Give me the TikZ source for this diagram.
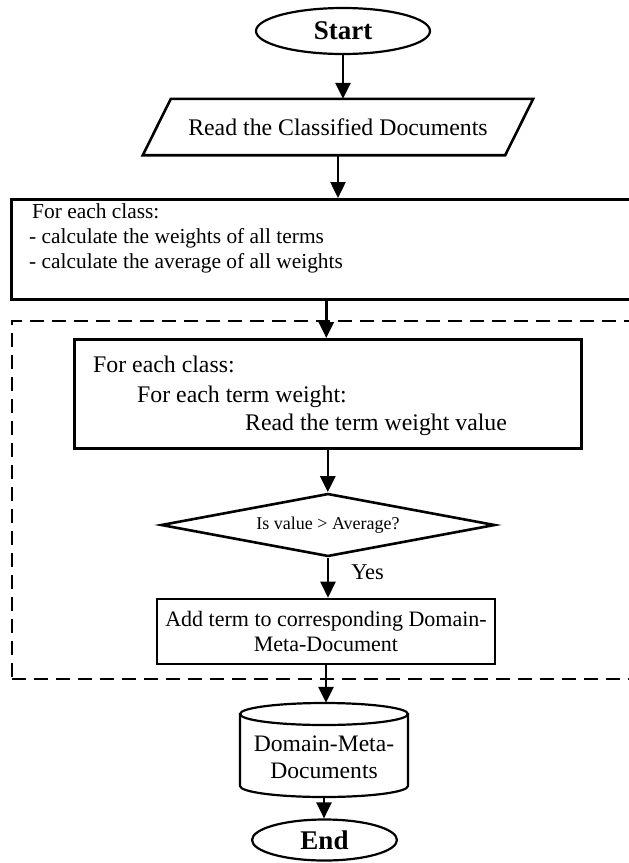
\documentclass[tikz,border=0pt]{standalone}
\usepackage{fontspec}
\setmainfont{Liberation Serif}
\usetikzlibrary{shapes.geometric,arrows.meta,calc}
\begin{document}
\begin{tikzpicture}[x=1pt,y=-1pt,
  arr/.style={line width=2.5pt,-{Triangle[width=15pt,length=16pt]}},
  boxstyle/.style={draw,line width=2.6pt,rectangle,inner sep=0pt},
  termstyle/.style={draw,ellipse,line width=2.2pt,inner sep=0pt,font=\fontsize{27}{30}\selectfont\bfseries},
  txtA/.style={anchor=base west,inner sep=0pt,font=\fontsize{21.4}{25}\selectfont},
  txtB/.style={anchor=base west,inner sep=0pt,font=\fontsize{23.8}{28}\selectfont},
  grpstyle/.style={draw,line width=2.2pt,dash pattern=on 14pt off 8pt,rectangle,inner sep=0pt}]
\useasboundingbox (0,0) rectangle (629,863);
\clip (0,0) rectangle (629,863);

% Start
\node[termstyle,minimum width=174pt,minimum height=46pt] (start) at (343,31) {Start};

% Parallelogram
\node[inner sep=0pt,minimum width=362pt,minimum height=56pt,font=\fontsize{23.8}{28}\selectfont] (par) at (338,127) {Read the Classified Documents};
\draw[line width=2.6pt] ([xshift=-14pt]par.south west) -- ([xshift=14pt]par.north west) -- ([xshift=14pt]par.north east) -- ([xshift=-14pt]par.south east) -- cycle;

% Box 1
\node[boxstyle,minimum width=630pt,minimum height=100pt,anchor=north west] (box1) at (10,198) {};
\node[txtA] (t1a) at (32,218) {For each class:};
\node[txtA] (t1b) at (29,243) {- calculate the weights of all terms};
\node[txtA] (t1c) at (29,268) {- calculate the average of all weights};

% Dashed group
\node[grpstyle,minimum width=640pt,minimum height=358pt,anchor=north west] (grp) at (11,320) {};

% Box 2
\node[boxstyle,minimum width=507pt,minimum height=109pt,anchor=north west] (box2) at (73,338) {};
\node[txtB] (t2a) at (93,372) {For each class:};
\node[txtB] (t2b) at (137,402) {For each term weight:};
\node[txtB] (t2c) at (245,430) {Read the term weight value};

% Decision
\node[diamond,draw,line width=2.6pt,minimum width=334pt,minimum height=63pt,inner sep=0pt,aspect=5.3,font=\fontsize{18}{20}\selectfont] (dec) at (328,525) {Is value > Average?};

% Box 3
\node[boxstyle,minimum width=338pt,minimum height=65pt,align=center,font=\fontsize{22}{25}\selectfont] (box3) at (326,631.5) {Add term to corresponding Domain-\\Meta-Document};

% Cylinder (database)
\node[inner sep=0pt,minimum width=168pt,minimum height=94pt] (cyl) at (324,750) {};
\draw[line width=2.2pt] (324,714) ellipse [x radius=84, y radius=11];
\draw[line width=2.2pt] (240,714) -- (240,786) arc[start angle=180,end angle=0,x radius=84,y radius=11] -- (408,714);
\node[inner sep=0pt,align=center,font=\fontsize{23.6}{27}\selectfont] (cyltxt) at (324,757) {Domain-Meta-\\Documents};

% End
\node[termstyle,minimum width=145pt,minimum height=41pt] (end) at (324.5,840) {End};

% Connectors
\draw[arr] (start.south) -- (start.south |- par.north);
\draw[arr] (par.south) -- (par.south |- box1.north);
\draw[arr] (box1.south) -- (box1.south |- box2.north);
\draw[arr] (box2.south) -- (box2.south |- dec.north);
\draw[arr] (dec.south) -- node[pos=0.35,anchor=west,inner sep=0pt,xshift=22pt,font=\fontsize{22.5}{25}\selectfont] {Yes} (dec.south |- box3.north);
\draw[arr] (box3.south) -- (box3.south |- cyl.north);
\draw[arr] (cyl.south) -- (cyl.south |- end.north);
\end{tikzpicture}
\end{document}
